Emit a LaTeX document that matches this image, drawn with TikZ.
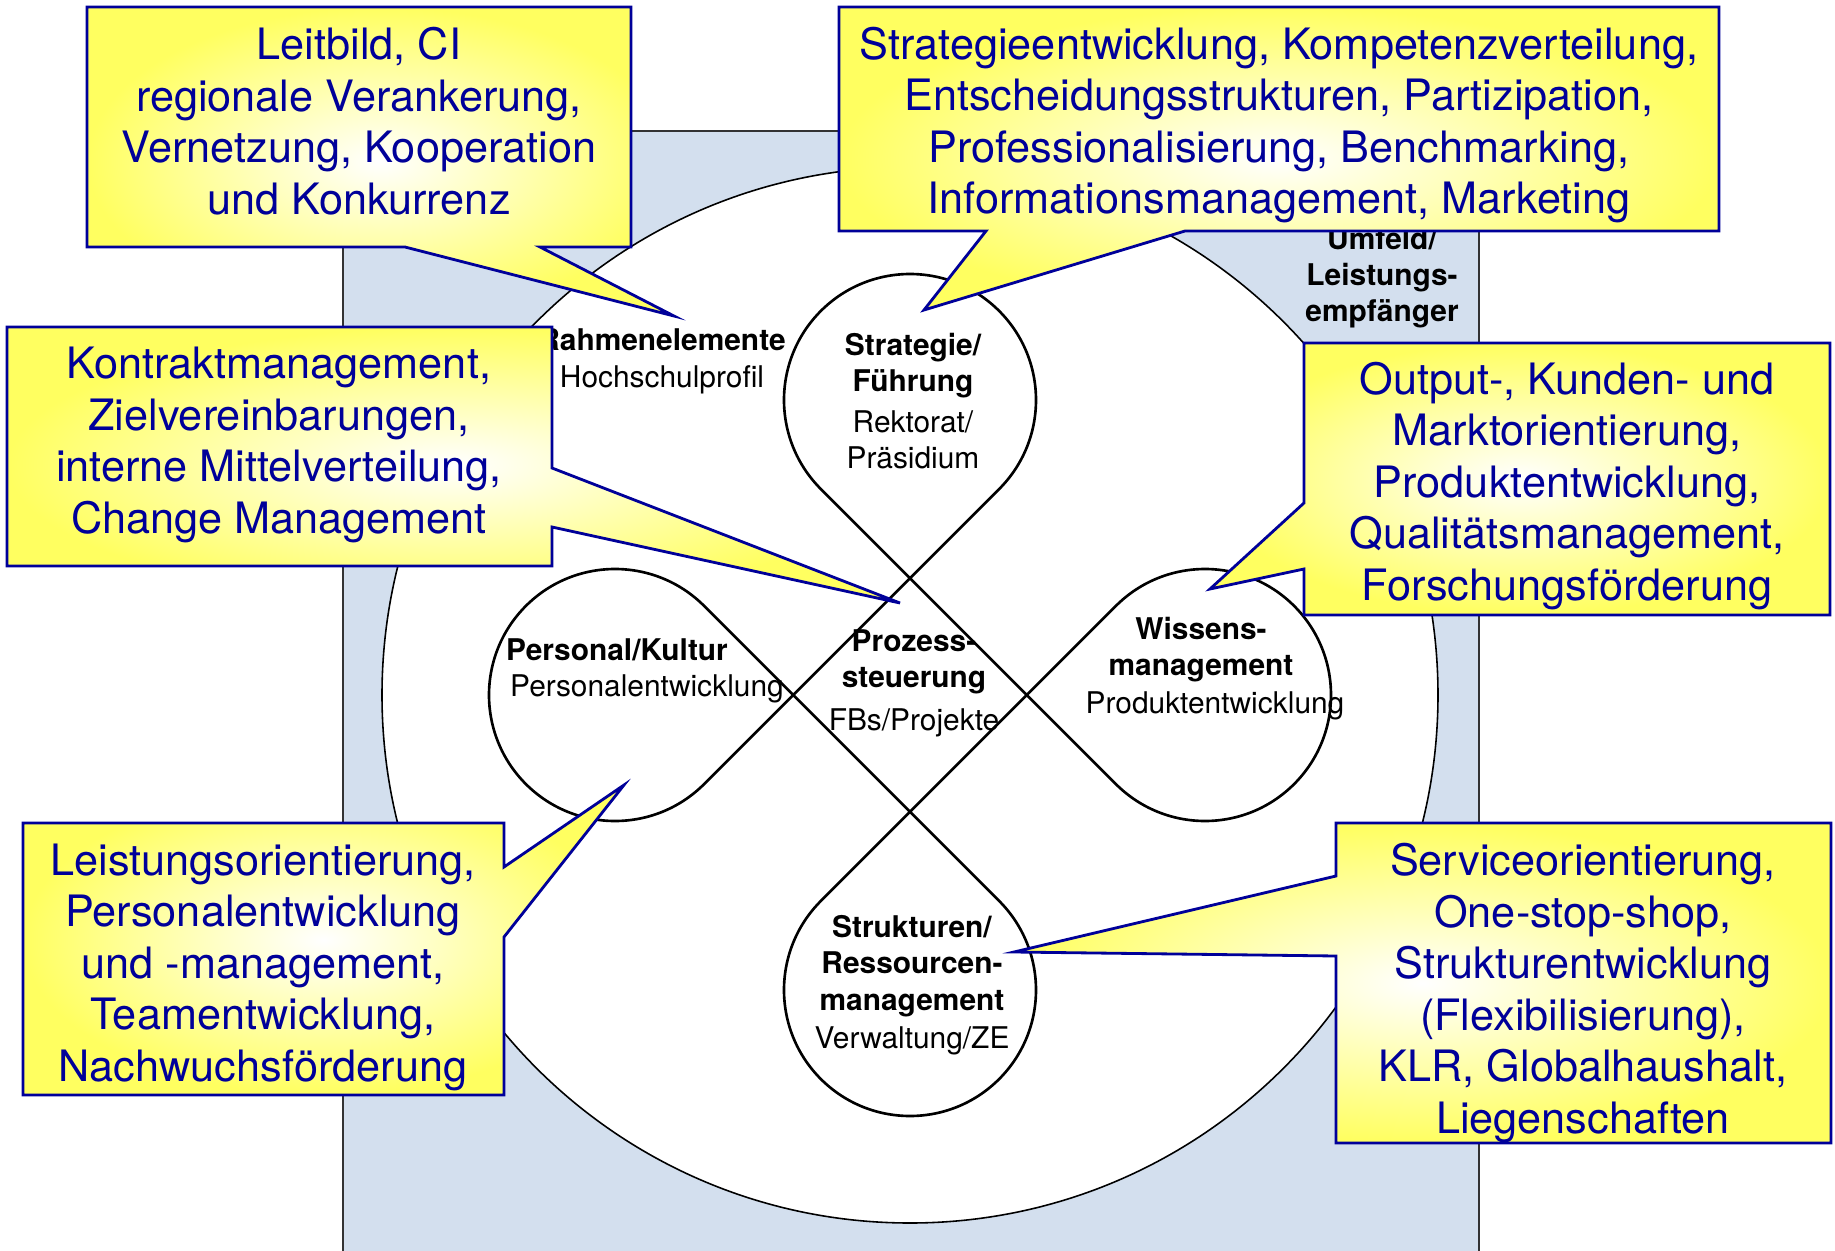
\documentclass[tikz,border=0pt]{standalone}
\usepackage{fontspec}
\setmainfont{TeX Gyre Heros}
\usetikzlibrary{calc}

\definecolor{bgblue}{RGB}{211,223,238}
\definecolor{callyellow}{RGB}{255,255,96}
\definecolor{callblue}{RGB}{0,0,153}

\tikzset{
  lbl/.style={font=\fontsize{8.5}{10.3}\selectfont\bfseries, align=center, inner sep=0pt},
  sublbl/.style={font=\fontsize{8.5}{10.3}\selectfont, align=center, inner sep=0pt},
  calltext/.style={font=\fontsize{12.3}{14.65}\selectfont, text=callblue, align=center, inner sep=0pt},
  callout/.style={draw=callblue, line width=0.8pt, line join=miter, shading=radial, inner color=white, outer color=callyellow}
}

\begin{document}
\begin{tikzpicture}[x=0.01cm, y=0.01cm]

\useasboundingbox (0,0) rectangle (1835,-1251) ;

\draw [fill=bgblue, draw=black!80, line width=0.4pt] (343,-131) rectangle (1479,-1262) ;

\coordinate (mid) at (910,-695) ;
\draw [fill=white, line width=0.45pt] (mid) circle [radius=528] ;

\coordinate (lobeT) at (910,-400) ;
\coordinate (lobeR) at (1205,-695) ;
\coordinate (lobeB) at (910,-990) ;
\coordinate (lobeL) at (615,-695) ;

\draw [line width=0.75pt] ($(lobeR)+(225:126)$) arc [start angle=225, end angle=495, radius=126]
  -- ($(lobeB)+(135:126)$) arc [start angle=135, end angle=405, radius=126]
  -- ($(lobeL)+(45:126)$) arc [start angle=45, end angle=315, radius=126]
  -- ($(lobeT)+(315:126)$) arc [start angle=315, end angle=585, radius=126]
  -- cycle ;

\node [lbl] (rahmen) at (662,-340) {Rahmenelemente} ;
\node [sublbl] (rahmensub) at (662,-380) {Hochschulprofil} ;

\node [lbl] (umfeld) at (1382,-278) {Umfeld/\\Leistungs-\\empfänger} ;

\node [lbl] (strat) at (913,-366) {Strategie/\\Führung} ;
\node [sublbl] (stratsub) at (913,-440) {Rektorat/\\Präsidium} ;

\node [lbl] (personal) at (617,-650) {Personal/Kultur} ;
\node [sublbl] (personalsub) at (647,-689) {Personalentwicklung} ;

\node [lbl] (prozess) at (914,-662) {Prozess-\\steuerung} ;
\node [sublbl] (prozesssub) at (914,-723) {FBs/Projekte} ;

\node [lbl] (wissen) at (1201,-650) {Wissens-\\management} ;
\node [sublbl] (wissensub) at (1215,-706) {Produktentwicklung} ;

\node [lbl] (struktur) at (912,-966) {Strukturen/\\Ressourcen-\\management} ;
\node [sublbl] (struktursub) at (912,-1041) {Verwaltung/ZE} ;

\coordinate (leitbildtip) at (674,-316) ;
\draw [callout] (87,-7) -- (631,-7) -- (631,-247) -- (540,-247) -- (leitbildtip) -- (405,-247) -- (87,-247) -- cycle ;
\node [calltext] (leitbild) at (359,-121) {Leitbild, CI\\regionale Verankerung,\\Vernetzung, Kooperation\\und Konkurrenz} ;

\coordinate (strategietip) at (924,-310) ;
\draw [callout] (839,-7) -- (1719,-7) -- (1719,-231) -- (1185,-231) -- (strategietip) -- (986,-231) -- (839,-231) -- cycle ;
\node [calltext] (strategie) at (1279,-125) {Strategieentwicklung, Kompetenzverteilung,\\Entscheidungsstrukturen, Partizipation,\\Professionalisierung, Benchmarking,\\Informationsmanagement, Marketing} ;

\coordinate (kontrakttip) at (900,-603) ;
\draw [callout] (7,-327) -- (552,-327) -- (552,-468) -- (kontrakttip) -- (552,-527) -- (552,-566) -- (7,-566) -- cycle ;
\node [calltext] (kontrakt) at (279,-445) {Kontraktmanagement,\\Zielvereinbarungen,\\interne Mittelverteilung,\\Change Management} ;

\coordinate (outputtip) at (1210,-589) ;
\draw [callout] (1304,-343) -- (1830,-343) -- (1830,-615) -- (1304,-615) -- (1304,-569) -- (outputtip) -- (1304,-503) -- cycle ;
\node [calltext] (output) at (1567,-486) {Output-, Kunden- und\\Marktorientierung,\\Produktentwicklung,\\Qualitätsmanagement,\\Forschungsförderung} ;

\coordinate (leistungtip) at (624,-785) ;
\draw [callout] (23,-823) -- (504,-823) -- (504,-867) -- (leistungtip) -- (504,-937) -- (504,-1095) -- (23,-1095) -- cycle ;
\node [calltext] (leistung) at (263,-967) {Leistungsorientierung,\\Personalentwicklung\\und -management,\\Teamentwicklung,\\Nachwuchsförderung} ;

\coordinate (servicetip) at (1014,-952) ;
\draw [callout] (1336,-823) -- (1831,-823) -- (1831,-1143) -- (1336,-1143) -- (1336,-956) -- (servicetip) -- (1336,-876) -- cycle ;
\node [calltext] (service) at (1583,-993) {Serviceorientierung,\\One-stop-shop,\\Strukturentwicklung\\(Flexibilisierung),\\KLR, Globalhaushalt,\\Liegenschaften} ;

\end{tikzpicture}
\end{document}
